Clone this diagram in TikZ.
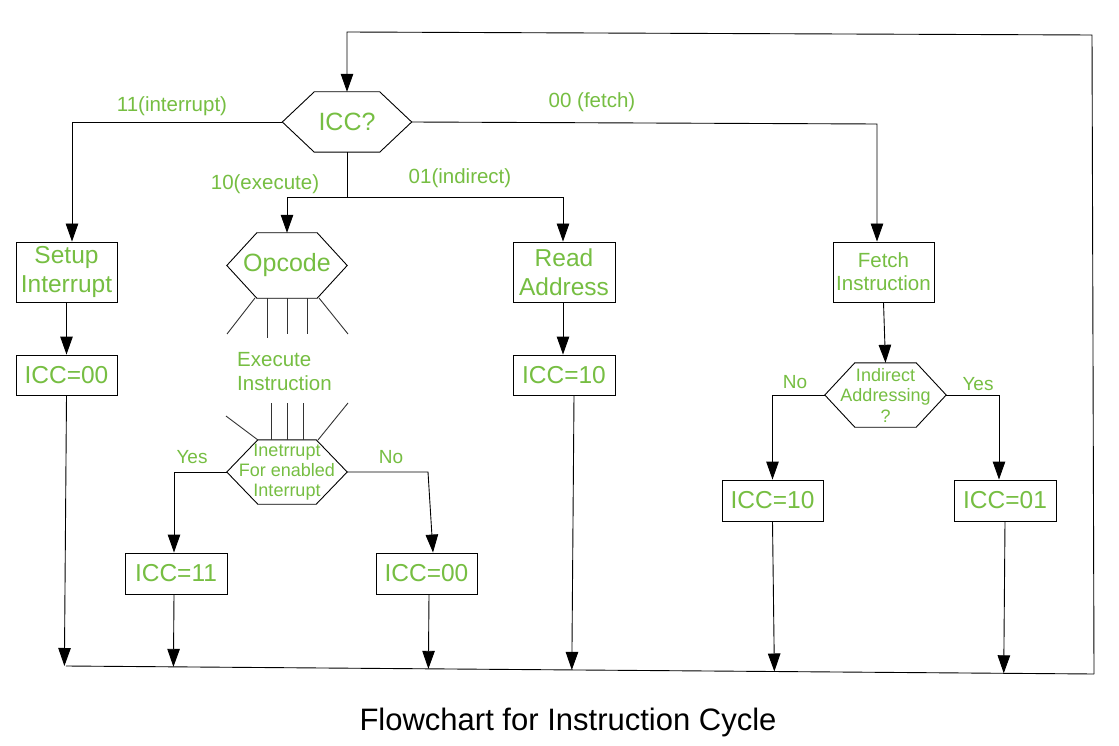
\documentclass[tikz,border=0pt]{standalone}
\usepackage{fontspec}
\setmainfont{Liberation Sans}
\usetikzlibrary{arrows.meta,calc}
\definecolor{gr}{RGB}{118,190,66}
\newcommand\hexdraw[2]{\draw[line width=0.9pt] (#1.west) -- ([xshift=#2]#1.north west) -- ([xshift=-#2]#1.north east) -- (#1.east) -- ([xshift=-#2]#1.south east) -- ([xshift=#2]#1.south west) -- cycle;}
\tikzset{
  box/.style={draw, line width=0.9pt, inner sep=0pt, text=gr, align=center, font=\fontsize{24.5}{29}\selectfont},
  smallbox/.style={box, font=\fontsize{20.5}{23}\selectfont},
  hexn/.style={inner sep=0pt, text=gr, align=center},
  lbl/.style={inner sep=0pt, text=gr, font=\fontsize{20.5}{24}\selectfont},
  yn/.style={inner sep=0pt, text=gr, font=\fontsize{19}{22}\selectfont},
  arr/.style={-{Triangle[length=18pt,width=12.5pt]}, line width=0.9pt},
  ln/.style={line width=0.9pt},
  ray/.style={line width=0.9pt, black!80},
}
\begin{document}
\begin{tikzpicture}[x=1pt,y=-1pt]
\useasboundingbox[fill=white] (0,0) rectangle (1119,746);

% loop coordinates
\coordinate (tl) at (347,32);
\coordinate (tr) at (1092,35);
\coordinate (br) at (1094,674);
\coordinate (bl) at (66,666);

% main decision
\node[hexn, minimum width=129pt, minimum height=60pt, font=\fontsize{25}{28}\selectfont] (icc) at (347,122) {ICC?};
\hexdraw{icc}{32}

% left column
\node[box, minimum width=101pt, minimum height=60pt] (setup) at (66.5,272) {\raisebox{-2pt}{Setup}\\\raisebox{-2pt}{Interrupt}};
\node[box, minimum width=101pt, minimum height=40pt] (iccA) at (66.5,375) {ICC=00};

% execute column
\node[hexn, minimum width=120pt, minimum height=65pt, font=\fontsize{25}{28}\selectfont] (opcode) at (287,265.5) {\raisebox{-1.5pt}{Opcode}};
\hexdraw{opcode}{30}
\node[inner sep=0pt, text=gr, align=left, anchor=west, font=\fontsize{20.5}{24}\selectfont] (exec) at (237,372) {Execute\\Instruction};
\node[hexn, minimum width=120pt, minimum height=64pt, font=\fontsize{18}{20}\selectfont] (intr) at (287,472) {\raisebox{-1.5pt}{Inetrrupt}\\\raisebox{-1.5pt}{For enabled}\\\raisebox{-1.5pt}{Interrupt}};
\hexdraw{intr}{31}
\node[box, minimum width=102pt, minimum height=41pt] (iccB) at (176,573.5) {ICC=11};
\node[box, minimum width=101pt, minimum height=41pt] (iccC) at (426.5,573.5) {ICC=00};

% rays below opcode and above interrupt
\draw[ray] (255,298) -- (227,334);
\draw[ray] (319,298) -- (348,334);
\draw[ray] (267,298) -- (267,338);
\draw[ray] (287,298) -- (287,334);
\draw[ray] (307,298) -- (307,334);
\draw[ray] (226,416) -- (258,440);
\draw[ray] (348,403) -- (318,440);
\draw[ray] (271,403) -- (271,440);
\draw[ray] (287,403) -- (287,440);
\draw[ray] (303,403) -- (303,440);

% indirect column
\node[box, minimum width=102pt, minimum height=60pt] (read) at (564,272) {\raisebox{-1.5pt}{Read}\\\raisebox{-1.5pt}{Address}};
\node[box, minimum width=102pt, minimum height=40pt] (iccD) at (564,375) {ICC=10};

% fetch column
\node[smallbox, minimum width=101pt, minimum height=60pt] (fetch) at (883.5,272) {Fetch\\Instruction};
\node[hexn, minimum width=121pt, minimum height=64pt, font=\fontsize{18}{20.5}\selectfont] (indir) at (885.5,395) {Indirect\\Addressing\\?};
\hexdraw{indir}{30}
\node[box, minimum width=101pt, minimum height=41pt] (iccE) at (772.5,500.5) {ICC=10};
\node[box, minimum width=102pt, minimum height=41pt] (iccF) at (1005,500.5) {ICC=01};

% labels
\node[lbl] (l11) at (172,106) {11(interrupt)};
\node[lbl] (l10) at (265,184) {10(execute)};
\node[lbl] (l01) at (460,178) {01(indirect)};
\node[lbl] (l00) at (592,102) {00 (fetch)};
\node[yn] (ly1) at (192,457) {Yes};
\node[yn] (ln1) at (391,457) {No};
\node[yn] (ln2) at (795,382) {No};
\node[yn] (ly2) at (978,384) {Yes};

% title
\node[inner sep=0pt, font=\fontsize{31}{34}\selectfont] (title) at (568,722) {Flowchart for Instruction Cycle};

% loop back
\draw[ln] (bl) -- (br);
\draw[arr] (br) -- (tr) -- (tl) -- (icc.north);

% branch 11
\draw[arr] (icc.west) -| ([xshift=5.5pt]setup.north);
\draw[arr] (setup) -- (iccA);
\draw[arr] (iccA.south) -- ($(bl)!(iccA.south)!(br)$);

% branch 10 / 01
\coordinate (ex) at (347,197);
\draw[ln] (icc.south) -- (ex);
\draw[arr] (ex) -| (opcode.north);
\draw[arr] (ex) -| ([xshift=-1pt]read.north);

% interrupt decision
\draw[arr] (intr.west) -| ([xshift=-2pt]iccB.north);
\coordinate (nocorner) at (428,472);
\draw[arr] (intr.east) -- (nocorner) -- ([xshift=6.5pt]iccC.north);
\draw[arr] ([xshift=-2pt]iccB.south) -- ($(bl)!([xshift=-2pt]iccB.south)!(br)$);
\draw[arr] ([xshift=2.5pt]iccC.south) -- ($(bl)!([xshift=2.5pt]iccC.south)!(br)$);

% read address
\draw[arr] ([xshift=-1pt]read.south) -- ([xshift=-1pt]iccD.north);
\draw[arr] ([xshift=10pt]iccD.south) -- ($(bl)!([xshift=10pt]iccD.south)!(br)$);

% fetch
\coordinate (cf) at (877,124);
\draw[arr] (icc.east) -- (cf) -- (cf |- fetch.north);
\draw[arr] (fetch.south) -- (indir.north);
\draw[arr] (indir.west) -| (iccE.north);
\draw[arr] (indir.east) -| ([xshift=-6pt]iccF.north);
\coordinate (eb) at (775,600);
\draw[arr] (iccE.south) -- ($(bl)!(eb)!(br)$);
\draw[arr] (iccF.south) -- ($(bl)!(iccF.south)!(br)$);
\end{tikzpicture}
\end{document}
